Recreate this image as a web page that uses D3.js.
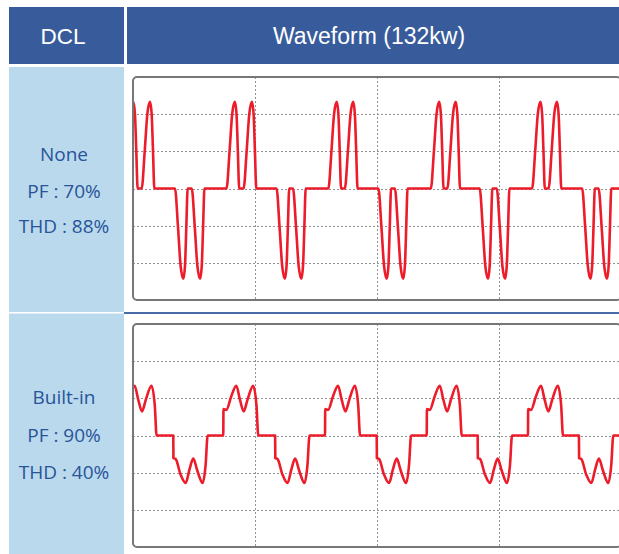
<!DOCTYPE html>
<html lang="en">
<head>
    <meta charset="UTF-8">
    <title>DCL Waveform (132kw)</title>
    <script src="https://cdnjs.cloudflare.com/ajax/libs/d3/7.8.5/d3.min.js"></script>
    <style>
        html, body { margin: 0; padding: 0; background: #fff; }
        svg { display: block; }
    </style>
</head>
<body>
<svg id="chart" width="619" height="554"></svg>

<script>
    // ---- Data ----
    // header labels
    const headerLabels = ["DCL", "Waveform (132kw)"];
    // row labels (left column)
    const rowLabels = [
        ["None", "PF : 70%", "THD : 88%"],
        ["Built-in", "PF : 90%", "THD : 40%"]
    ];

    // time axis: 4 divisions of 20 ms, values in grid divisions
    const timeDomain = [0, 80];
    const valueDomain = [-3, 3];
    const xGrid = [20, 40, 60];
    const yGrid = [-2, -1, 0, 1, 2];

    // top (no DCL): each current pulse, shape relative to its peak (ms, fraction of peak)
    const pulseShape = [
        [-1.37, 0], [-0.87, 0.43], [-0.44, 0.86], [0, 1],
        [0.27, 0.86], [0.49, 0.43], [0.71, 0]
    ];
    // peak times (ms) and peak heights (divisions)
    const pulsePeaksTop = [
        [0.05, 2.33], [2.79, 2.33], [8.25, -2.43], [11.0, -2.43],
        [16.7, 2.33], [19.5, 2.33], [24.9, -2.43], [27.6, -2.43],
        [33.4, 2.33], [36.1, 2.33], [41.6, -2.43], [44.3, -2.43],
        [50.2, 2.33], [52.9, 2.33], [58.2, -2.43], [61.0, -2.43],
        [66.8, 2.33], [69.5, 2.33], [75.0, -2.43], [77.7, -2.43]
    ];

    // bottom (built-in DCL): half-cycle shapes relative to the step (ms, divisions)
    const posHalfShape = [
        [0, 0], [0.03, 0.71], [0.5, 0.69], [1.3, 1.05], [2.13, 1.34],
        [2.75, 0.95], [3.34, 0.65], [4.0, 0.98], [4.9, 1.34],
        [5.44, 0.81], [5.74, 0]
    ];
    const negHalfShape = [
        [0, 0], [0.03, -0.61], [0.38, -0.63], [1.2, -1.05], [2.03, -1.28],
        [2.65, -0.92], [3.28, -0.62], [3.95, -0.95], [4.82, -1.28],
        [5.3, -0.8], [5.64, 0]
    ];
    const posStepsBottom = [-1.87, 14.8, 31.48, 48.15, 64.75];
    const negStepsBottom = [6.6, 23.3, 39.95, 56.5, 73.1];

    // ---- Layout ----
    const svg = d3.select("#chart");
    const colBlue = "#385c9b";
    const colLight = "#bbd9ec";
    const colText = "#28549a";
    const colWave = "#ec1c2a";

    const panels = [
        { top: 77, height: 223 },
        { top: 324, height: 223 }
    ];
    const boxLeft = 133, boxWidth = 488;

    // header
    svg.append("rect").attr("x", 9).attr("y", 7).attr("width", 115).attr("height", 57).attr("fill", colBlue);
    svg.append("rect").attr("x", 127).attr("y", 7).attr("width", 492).attr("height", 57).attr("fill", colBlue);
    svg.append("text").attr("x", 63).attr("y", 44).attr("text-anchor", "middle")
        .attr("font-family", "'Liberation Sans', Arial, sans-serif").attr("font-size", 22.5)
        .attr("fill", "#fff").text(headerLabels[0]);
    svg.append("text").attr("x", 369).attr("y", 44).attr("text-anchor", "middle")
        .attr("font-family", "'Liberation Sans', Arial, sans-serif").attr("font-size", 23)
        .attr("fill", "#fff").text(headerLabels[1]);

    // left column
    svg.append("rect").attr("x", 9).attr("y", 67).attr("width", 115).attr("height", 487).attr("fill", colLight);
    svg.append("line").attr("x1", 9).attr("x2", 124).attr("y1", 312.8).attr("y2", 312.8)
        .attr("stroke", "#fff").attr("stroke-width", 1.5);
    svg.append("line").attr("x1", 124).attr("x2", 619).attr("y1", 313).attr("y2", 313)
        .attr("stroke", "#4a6aa8").attr("stroke-width", 2);

    const labelBaselines = [[161, 198, 233], [404, 442, 479]];
    rowLabels.forEach((lines, i) => {
        svg.append("g").selectAll("text")
            .data(lines)
            .enter()
            .append("text")
            .attr("x", 64)
            .attr("y", (d, j) => labelBaselines[i][j])
            .attr("text-anchor", "middle")
            .attr("font-family", "'Open Sans', 'Noto Sans', sans-serif")
            .attr("font-size", 19)
            .attr("fill", colText)
            .text(d => d);
    });

    // build point lists (baseline runs flat to both box edges)
    const topPoints = [[timeDomain[0] - 2, 0]];
    pulsePeaksTop.forEach(([t, a]) => {
        pulseShape.forEach(([dt, f]) => topPoints.push([t + dt, a * f]));
    });
    topPoints.push([timeDomain[1] + 2, 0]);

    const bottomPoints = [[timeDomain[0] - 2, 0]];
    const halves = posStepsBottom.map(s => [s, posHalfShape])
        .concat(negStepsBottom.map(s => [s, negHalfShape]))
        .sort((a, b) => a[0] - b[0]);
    halves.forEach(([s, shape]) => {
        shape.forEach(([dt, v]) => bottomPoints.push([s + dt, v]));
    });
    bottomPoints.push([timeDomain[1] + 2, 0]);

    const waves = [topPoints, bottomPoints];

    panels.forEach((p, i) => {
        const x = d3.scaleLinear().domain(timeDomain).range([boxLeft, boxLeft + boxWidth]);
        const y = d3.scaleLinear().domain(valueDomain).range([p.top + p.height, p.top]);
        const g = svg.append("g");

        g.append("clipPath").attr("id", "clip" + i)
            .append("rect")
            .attr("x", boxLeft).attr("y", p.top)
            .attr("width", boxWidth).attr("height", p.height)
            .attr("rx", 4);

        g.append("rect")
            .attr("x", boxLeft).attr("y", p.top)
            .attr("width", boxWidth).attr("height", p.height)
            .attr("rx", 4)
            .attr("fill", "#fff");

        // dotted grid
        g.selectAll(".vgrid")
            .data(xGrid)
            .enter()
            .append("line")
            .attr("x1", d => Math.round(x(d)) + 0.5).attr("x2", d => Math.round(x(d)) + 0.5)
            .attr("y1", p.top).attr("y2", p.top + p.height)
            .attr("stroke", "#939393").attr("stroke-width", 1)
            .attr("stroke-dasharray", "2,2");
        g.selectAll(".hgrid")
            .data(yGrid)
            .enter()
            .append("line")
            .attr("x1", boxLeft).attr("x2", boxLeft + boxWidth)
            .attr("y1", d => Math.round(y(d)) + 0.5).attr("y2", d => Math.round(y(d)) + 0.5)
            .attr("stroke", "#939393").attr("stroke-width", 1)
            .attr("stroke-dasharray", "2,2");

        const line = d3.line()
            .x(d => x(d[0]))
            .y(d => y(d[1]))
            .curve(d3.curveMonotoneX);

        g.append("path")
            .datum(waves[i])
            .attr("clip-path", "url(#clip" + i + ")")
            .attr("d", line)
            .attr("fill", "none")
            .attr("stroke", colWave)
            .attr("stroke-width", 2.6)
            .attr("stroke-linejoin", "round");

        g.append("rect")
            .attr("x", boxLeft).attr("y", p.top)
            .attr("width", boxWidth).attr("height", p.height)
            .attr("rx", 4)
            .attr("fill", "none")
            .attr("stroke", "#777")
            .attr("stroke-width", 2);
    });
</script>
</body>
</html>
